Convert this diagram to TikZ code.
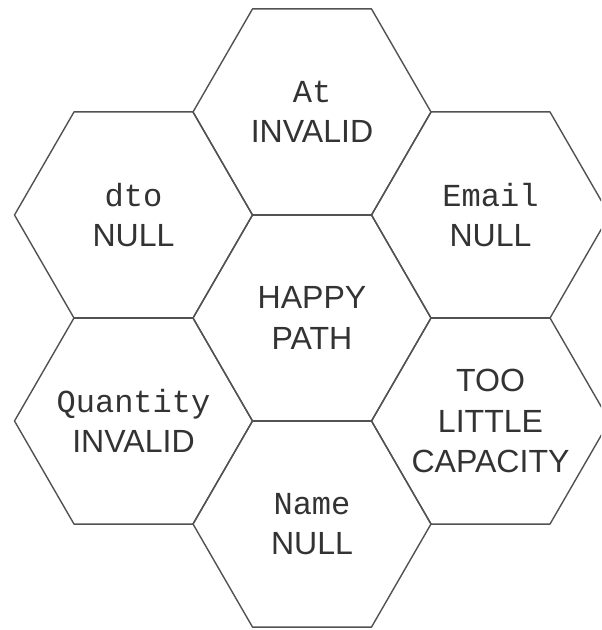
\documentclass[tikz,border=0pt]{standalone}
\usepackage{fontspec}
\setsansfont{Liberation Sans}
\setmonofont{Liberation Mono}
\usepackage{tikz}

\begin{document}
\begin{tikzpicture}[x=0.025cm, y=-0.025cm,
	hex/.style={draw=black!68, line width=1pt, line join=round},
	every node/.style={text=black!80, align=center, inner sep=0pt,
		font=\sffamily\fontsize{22.8}{28.5}\selectfont}]
	\useasboundingbox (0,0) rectangle (601,630);
	\clip (0,0) rectangle (601,630);

	\coordinate (T) at (312,112);
	\coordinate (M) at (312,318);
	\coordinate (B) at (312,524);
	\coordinate (UL) at (133.5,215);
	\coordinate (UR) at (490.5,215);
	\coordinate (LL) at (133.5,421);
	\coordinate (LR) at (490.5,421);

	\foreach \c in {T,M,B,UL,UR,LL,LR}
		\draw[hex] (\c) ++(0:119) -- ++(120:119) -- ++(180:119) -- ++(240:119)
			-- ++(300:119) -- ++(0:119) -- cycle;

	\node (at) at (T) {{\ttfamily At}\\INVALID};
	\node (happy) at (M) {HAPPY\\PATH};
	\node (name) at (B) {{\ttfamily Name}\\NULL};
	\node (dto) at (UL) {{\ttfamily dto}\\NULL};
	\node (email) at (UR) {{\ttfamily Email}\\NULL};
	\node (quantity) at (LL) {{\ttfamily Quantity}\\INVALID};
	\node (capacity) at (LR) {TOO\\LITTLE\\CAPACITY};
\end{tikzpicture}
\end{document}
